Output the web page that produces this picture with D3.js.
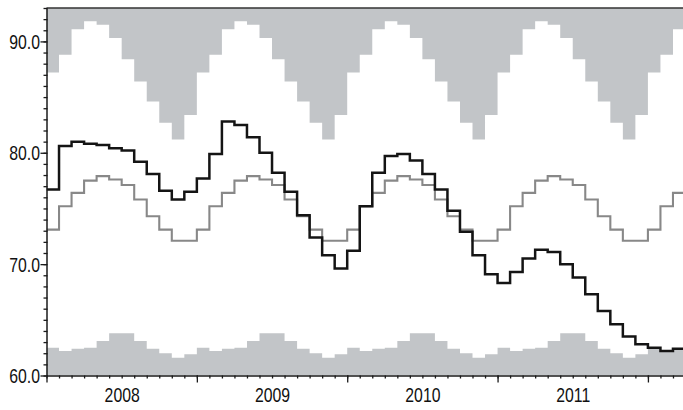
<!DOCTYPE html>
<html>
<head>
<meta charset="utf-8">
<script src="https://cdn.jsdelivr.net/npm/d3@7/dist/d3.min.js"></script>
<style>
  html, body { margin: 0; padding: 0; background: #fff; }
  svg { display: block; }
  text { font-family: "Liberation Sans", Arial, sans-serif; }
</style>
</head>
<body>
<svg id="chart" width="683" height="410"></svg>
<script>
// Month index 0 = Jan 2008 ... 50 = Mar 2012
const years = ["2008", "2009", "2010", "2011"];
const yearCenters = [6, 18, 30, 42];
const yearBounds = [0, 12, 24, 36, 48];
const yMajor = [60, 70, 80, 90];

// actual (black line)
const actual = [
  76.7, 80.6, 81.0, 80.8, 80.7, 80.4, 80.2, 79.2, 78.1, 76.6, 75.8, 76.5,
  77.7, 79.9, 82.8, 82.5, 81.4, 80.0, 78.2, 76.5, 74.4, 72.4, 70.8, 69.6,
  71.2, 75.2, 78.2, 79.7, 79.9, 79.3, 78.1, 76.7, 74.8, 72.9, 70.8, 69.1,
  68.3, 69.3, 70.5, 71.3, 71.1, 70.0, 68.8, 67.3, 65.8, 64.6, 63.5, 62.8,
  62.5, 62.2, 62.4
];
// mean (gray line)
const mean = [
  73.1, 75.2, 76.4, 77.5, 77.9, 77.6, 77.1, 75.8, 74.3, 73.1, 72.1, 72.1,
  73.1, 75.2, 76.4, 77.5, 77.9, 77.6, 77.1, 75.8, 74.3, 73.1, 72.1, 72.1,
  73.1, 75.2, 76.4, 77.5, 77.9, 77.6, 77.1, 75.8, 74.3, 73.1, 72.1, 72.1,
  73.1, 75.2, 76.4, 77.5, 77.9, 77.6, 77.1, 75.8, 74.3, 73.1, 72.1, 72.1,
  73.1, 75.2, 76.4
];
// upper band boundary (area above filled)
const upper = [
  87.2, 88.8, 91.1, 91.8, 91.5, 90.3, 88.4, 86.4, 84.6, 82.7, 81.2, 83.4,
  87.2, 88.8, 91.1, 91.8, 91.5, 90.3, 88.4, 86.4, 84.6, 82.7, 81.2, 83.4,
  87.2, 88.8, 91.1, 91.8, 91.5, 90.3, 88.4, 86.4, 84.6, 82.7, 81.2, 83.4,
  87.2, 88.8, 91.1, 91.8, 91.5, 90.3, 88.4, 86.4, 84.6, 82.7, 81.2, 83.4,
  87.2, 88.8, 91.1
];
// lower band boundary (area below filled)
const lower = [
  62.5, 62.2, 62.4, 62.5, 63.1, 63.8, 63.8, 63.1, 62.4, 62.0, 61.6, 61.9,
  62.5, 62.2, 62.4, 62.5, 63.1, 63.8, 63.8, 63.1, 62.4, 62.0, 61.6, 61.9,
  62.5, 62.2, 62.4, 62.5, 63.1, 63.8, 63.8, 63.1, 62.4, 62.0, 61.6, 61.9,
  62.5, 62.2, 62.4, 62.5, 63.1, 63.8, 63.8, 63.1, 62.4, 62.0, 61.6, 61.9,
  62.5, 62.2, 62.4
];

const L = 46.5, R = 683, T = 8, B = 375.5;
const xEnd = 50.8;
const x = d3.scaleLinear().domain([0, xEnd]).range([L, R]);
const y = d3.scaleLinear().domain([60, 93]).range([B, T]);

const svg = d3.select("#chart");
svg.append("defs").append("clipPath").attr("id", "clip")
  .append("rect").attr("x", L).attr("y", T).attr("width", R - L).attr("height", B - T);

// step series: value i covers [i, i+1]
function pts(arr) {
  const p = arr.map((v, i) => [i, v]);
  p.push([arr.length, arr[arr.length - 1]]);
  return p;
}

const plot = svg.append("g").attr("clip-path", "url(#clip)");
const fillCol = "#c2c5c8";

plot.append("path")
  .datum(pts(upper))
  .attr("fill", fillCol)
  .attr("d", d3.area().curve(d3.curveStepAfter).x(d => x(d[0])).y0(y(93)).y1(d => y(d[1])));

plot.append("path")
  .datum(pts(lower))
  .attr("fill", fillCol)
  .attr("d", d3.area().curve(d3.curveStepAfter).x(d => x(d[0])).y0(y(60)).y1(d => y(d[1])));

const line = d3.line().curve(d3.curveStepAfter).x(d => x(d[0])).y(d => y(d[1]));

plot.append("path")
  .datum(pts(mean))
  .attr("fill", "none")
  .attr("stroke", "#888888")
  .attr("stroke-width", 2.1)
  .attr("d", line);

plot.append("path")
  .datum(pts(actual))
  .attr("fill", "none")
  .attr("stroke", "#141414")
  .attr("stroke-width", 2.5)
  .attr("d", line);

// top frame
svg.append("line")
  .attr("x1", L).attr("x2", R).attr("y1", T).attr("y2", T)
  .attr("stroke", "#333").attr("stroke-width", 1.6);

const axisCol = "#1a1a1a";
function styleAxis(g) {
  g.selectAll("path.domain").attr("stroke", axisCol).attr("stroke-width", 1.5);
  g.selectAll(".tick line").attr("stroke", axisCol).attr("stroke-width", 1.3);
}

// X axis minor ticks (monthly)
const gxMinor = svg.append("g").attr("transform", `translate(0,${B})`)
  .call(d3.axisBottom(x).tickValues(d3.range(0, 51)).tickSize(3).tickSizeOuter(0).tickFormat(""));
styleAxis(gxMinor);
// X axis major ticks (year boundaries)
const gxMajor = svg.append("g").attr("transform", `translate(0,${B})`)
  .call(d3.axisBottom(x).tickValues(yearBounds).tickSize(7).tickSizeOuter(0).tickFormat(""));
gxMajor.select("path.domain").remove();
styleAxis(gxMajor);
// X labels centered in year
const gxLab = svg.append("g").attr("transform", `translate(0,${B})`)
  .call(d3.axisBottom(x).tickValues(yearCenters).tickSize(0).tickFormat((d, i) => years[i]));
gxLab.select("path.domain").remove();
gxLab.selectAll(".tick text")
  .attr("y", 0).attr("dy", 0)
  .attr("font-size", 20).attr("fill", "#111")
  .attr("font-family", "'Liberation Sans', Arial, sans-serif")
  .attr("transform", "translate(0,26) scale(0.79,1)");

// Y axis minor
const gyMinor = svg.append("g").attr("transform", `translate(${L},0)`)
  .call(d3.axisLeft(y).tickValues(d3.range(60, 94)).tickSize(3).tickSizeOuter(0).tickFormat(""));
styleAxis(gyMinor);
gyMinor.selectAll(".tick line").attr("x2", -3).attr("x1", 1);
// Y axis major
const gyMajor = svg.append("g").attr("transform", `translate(${L},0)`)
  .call(d3.axisLeft(y).tickValues(yMajor).tickSize(6).tickSizeOuter(0).tickFormat(d3.format(".1f")));
gyMajor.select("path.domain").remove();
styleAxis(gyMajor);
gyMajor.selectAll(".tick text")
  .attr("x", 0).attr("dy", "0.36em")
  .attr("font-size", 20).attr("fill", "#111")
  .attr("font-family", "'Liberation Sans', Arial, sans-serif")
  .attr("transform", "translate(-6.5,0) scale(0.79,1)");
</script>
</body>
</html>
